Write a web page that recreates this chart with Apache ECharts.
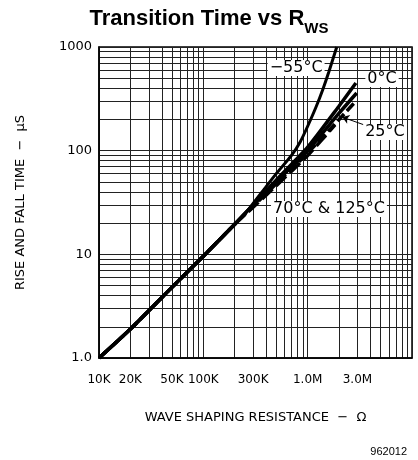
<!DOCTYPE html>
<html>
<head>
<meta charset="utf-8">
<script src="https://cdn.jsdelivr.net/npm/echarts@6/dist/echarts.min.js"></script>
<style>
  html, body { margin: 0; padding: 0; background: #fff; }
  #chart { width: 418px; height: 460px; }
</style>
</head>
<body>
<div id="chart"></div>
<script>
// tick labels
const xTickValues = [1e4, 2e4, 5e4, 1e5, 3e5, 1e6, 3e6];
const xTickLabels = ['10K', '20K', '50K', '100K', '300K', '1.0M', '3.0M'];
const yTickValues = [1, 10, 100, 1000];
const yTickLabels = ['1.0', '10', '100', '1000'];

// log grid lines
const xGrid = [1e4, 2e4, 3e4, 4e4, 5e4, 6e4, 7e4, 8e4, 9e4,
    1e5, 2e5, 3e5, 4e5, 5e5, 6e5, 7e5, 8e5, 9e5,
    1e6, 2e6, 3e6, 4e6, 5e6, 6e6, 7e6, 8e6, 9e6, 1e7];
const yGrid = [1, 2, 3, 4, 5, 6, 7, 8, 9, 10, 20, 30, 40, 50, 60, 70, 80, 90,
    100, 200, 300, 400, 500, 600, 700, 800, 900, 1000];

// curves: resistance (ohm) and rise/fall time (us)
const rM55 = [1e4, 2e4, 5e4, 1e5, 2e5, 2.7e5, 4e5, 5e5, 7e5, 8.5e5, 1e6, 1.2e6, 1.4e6, 1.6e6, 1.9e6];
const tM55 = [1.0, 1.9, 4.8, 9.6, 19.5, 27, 45, 60, 90, 122, 172, 262, 392, 580, 1000];
const r0 = [1e4, 2e4, 5e4, 1e5, 2e5, 3e5, 5e5, 1e6, 2e6, 2.9e6];
const t0 = [1.0, 1.9, 4.8, 9.6, 19.5, 30, 52, 108, 270, 450];
const r25 = [1e4, 2e4, 5e4, 1e5, 2e5, 3e5, 5e5, 1e6, 2e6, 2.95e6];
const t25 = [1.0, 1.9, 4.8, 9.6, 19.5, 30, 50, 100, 230, 360];
const r70 = [1e4, 2e4, 5e4, 1e5, 2e5, 3e5, 5e5, 1e6, 2e6, 2.85e6];
const t70 = [1.0, 1.9, 4.8, 9.6, 19.5, 29, 48, 95, 200, 295];
const r125 = [1e4, 2e4, 5e4, 1e5, 2e5, 3e5, 5e5, 1e6, 1.83e6];
const t125 = [1.0, 1.9, 4.8, 9.6, 19.5, 28.5, 46, 90, 177];

const font = 'DejaVu Sans';

function pairs(r, t) {
    return r.map((v, i) => [v, t[i]]);
}

function pickLabel(values, labels, v) {
    for (let i = 0; i < values.length; i++) {
        if (Math.abs(values[i] - v) / values[i] < 1e-6) return labels[i];
    }
    return '';
}

function curve(name, r, t, dash, width) {
    return {
        name: name,
        type: 'line',
        data: pairs(r, t),
        smooth: 0.2,
        symbol: 'none',
        lineStyle: { color: '#000', width: width, type: dash },
        z: 5
    };
}

const tagLabel = {
    show: true,
    position: 'inside',
    color: '#000',
    fontFamily: font,
    fontSize: 16,
    backgroundColor: '#fff',
    padding: [0, 2]
};

function tag(text, r, t) {
    return {
        coord: [r, t],
        value: text,
        symbol: 'rect',
        symbolSize: 1,
        itemStyle: { color: 'rgba(0,0,0,0)' },
        label: Object.assign({}, tagLabel, { formatter: text })
    };
}

const series = [
    curve('-55°C', rM55, tM55, 'solid', 3),
    curve('0°C', r0, t0, 'solid', 3.5),
    curve('25°C', r25, t25, 'solid', 3.5),
    curve('70°C', r70, t70, [10, 4], 3.5),
    curve('125°C', r125, t125, [14, 5], 3.5)
];

series[0].markPoint = {
    z: 10,
    data: [
        tag('−55°C', 7.75e5, 626),
        tag('0°C', 5.16e6, 490),
        tag('25°C', 5.5e6, 151),
        tag('70°C & 125°C', 1.6e6, 27.3)
    ]
};
series[0].markLine = {
    silent: true,
    symbol: ['none', 'arrow'],
    symbolSize: 7,
    label: { show: false },
    lineStyle: { color: '#000', width: 1, type: 'solid' },
    data: [[{ coord: [4.8e6, 158] }, { coord: [2.14e6, 211] }]]
};

const chart = echarts.init(document.getElementById('chart'));
chart.setOption({
    animation: false,
    title: [{
        text: '{a|Transition Time vs R}{b|WS}',
        left: 'center',
        top: 3,
        textStyle: {
            rich: {
                a: { fontFamily: 'Liberation Sans', fontWeight: 'bold', fontSize: 22, lineHeight: 25, verticalAlign: 'top', color: '#000' },
                b: { fontFamily: 'Liberation Sans', fontWeight: 'bold', fontSize: 15, lineHeight: 28, verticalAlign: 'bottom', color: '#000' }
            }
        }
    }, {
        text: '962012',
        right: 6,
        top: 441,
        textStyle: { fontFamily: 'Liberation Sans', fontSize: 11, fontWeight: 'normal', color: '#000' }
    }],
    grid: {
        left: 99, right: 6, top: 47, bottom: 102,
        show: true, borderColor: '#000', borderWidth: 1.5
    },
    xAxis: {
        type: 'log',
        logBase: 10,
        min: 1e4,
        max: 1e7,
        name: 'WAVE SHAPING RESISTANCE  −  Ω',
        nameLocation: 'middle',
        nameGap: 53,
        nameTextStyle: { fontFamily: font, fontSize: 13, color: '#000' },
        axisLine: { show: true, lineStyle: { color: '#000', width: 1.5 } },
        axisTick: { show: false, customValues: xGrid },
        axisLabel: {
            customValues: xTickValues,
            margin: 16,
            fontFamily: font,
            fontSize: 12,
            color: '#000',
            formatter: v => pickLabel(xTickValues, xTickLabels, v)
        },
        splitLine: { show: true, lineStyle: { color: '#222', width: 1 } },
        minorSplitLine: { show: false }
    },
    yAxis: {
        type: 'log',
        logBase: 10,
        min: 1,
        max: 1000,
        name: 'RISE AND FALL TIME  −  µS',
        nameLocation: 'middle',
        nameGap: 72,
        nameTextStyle: { fontFamily: font, fontSize: 13, color: '#000' },
        axisLine: { show: true, lineStyle: { color: '#000', width: 1.5 } },
        axisTick: { show: false, customValues: yGrid },
        axisLabel: {
            customValues: yTickValues,
            margin: 7,
            fontFamily: font,
            fontSize: 13,
            color: '#000',
            formatter: v => pickLabel(yTickValues, yTickLabels, v)
        },
        splitLine: { show: true, lineStyle: { color: '#222', width: 1 } }
    },
    series: series
});
</script>
</body>
</html>
